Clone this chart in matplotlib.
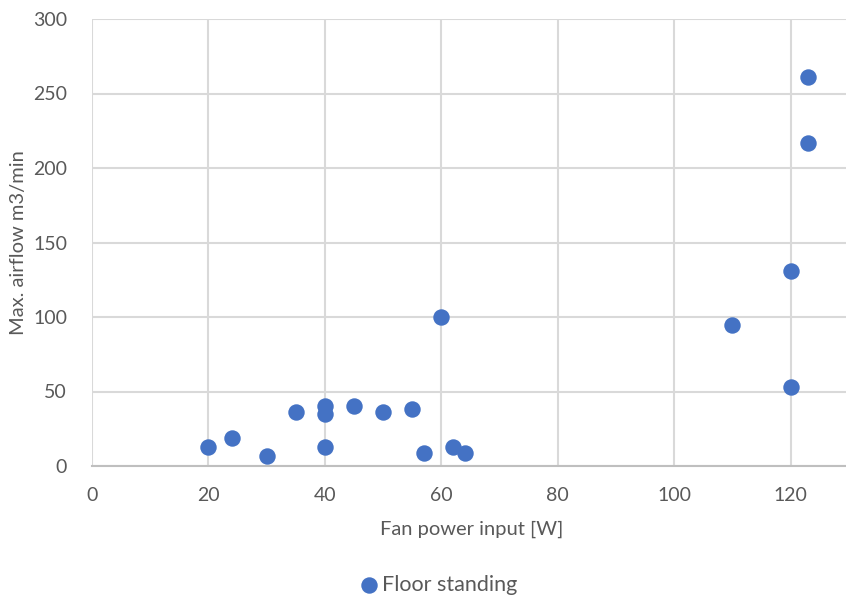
import matplotlib
matplotlib.use('Agg')
import matplotlib.pyplot as plt

# --- data ---
fan_power_w = [20, 24, 30, 35, 40, 40, 40, 45, 50, 55, 57, 60, 62, 64,
               110, 120, 120, 123, 123]
max_airflow = [13, 18.5, 6.5, 36, 40, 35, 12.5, 40, 36.5, 38.5, 9, 100, 13, 8.5,
               94.5, 131, 53, 216.5, 261]
x_ticks = [0, 20, 40, 60, 80, 100, 120]
y_ticks = [0, 50, 100, 150, 200, 250, 300]

blue = '#4472C4'
grid_col = '#D9D9D9'
text_col = '#595959'

plt.rcParams['font.family'] = ['Lato', 'DejaVu Sans']

fig = plt.figure(figsize=(8.46, 6.01), dpi=100)
ax = fig.add_axes([92/846, 1 - 466/601, 1 - 92/846 + 0.002, (466 - 19)/601])

ax.scatter(fan_power_w, max_airflow, s=140, color=blue, zorder=3,
           label='Floor standing', linewidths=0)

ax.set_xlim(0, 129.8)
ax.set_ylim(0, 300)
ax.set_xticks(x_ticks)
ax.set_yticks(y_ticks)
ax.grid(True, color=grid_col, linewidth=1.5, zorder=0)
ax.set_axisbelow(True)

for side in ['top', 'right', 'left']:
    ax.spines[side].set_visible(False)
ax.spines['bottom'].set_color('#BFBFBF')
ax.spines['bottom'].set_linewidth(1.5)

ax.tick_params(length=0, labelsize=14, colors=text_col, pad=15)
ax.tick_params(axis='y', pad=18)

ax.set_xlabel('Fan power input [W]', fontsize=14.5, color=text_col, labelpad=12)
ax.set_ylabel('Max. airflow m3/min', fontsize=14.5, color=text_col, labelpad=4)
# x label sits a bit right of the axes centre
ax.xaxis.label.set_position(((471 - 92) / (846 - 92), 0))

leg = fig.legend(loc='center', bbox_to_anchor=(438/846, 1 - 585/601), frameon=False,
                 fontsize=15.5, handletextpad=0.15, handlelength=0.9)
for t in leg.get_texts():
    t.set_color(text_col)

fig.savefig('out.png', dpi=100)
